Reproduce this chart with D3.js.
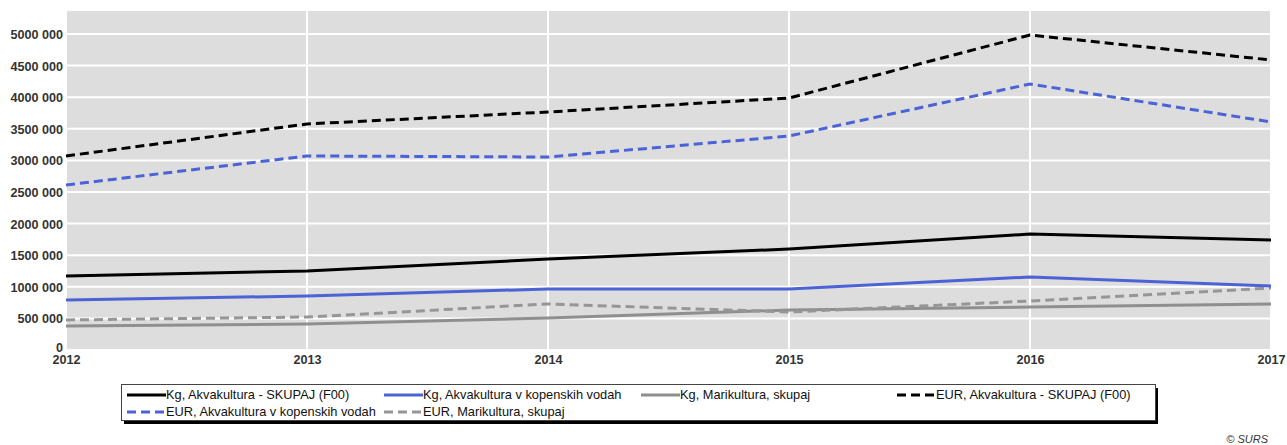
<!DOCTYPE html>
<html lang="sl">
<head>
<meta charset="UTF-8">
<title>Akvakultura</title>
<script src="https://d3js.org/d3.v7.min.js"></script>
<style>
  body { margin: 0; background: #fff; }
  text { font-family: "Liberation Sans", Arial, sans-serif; }
</style>
</head>
<body>
<div id="chart"></div>
<script>
// data
const years = [2012, 2013, 2014, 2015, 2016, 2017];
const kgTotal   = [1171000, 1250000, 1440000, 1598000, 1835000, 1740000];
const kgInland  = [791000, 854000, 965000, 965000, 1155000, 1013000];
const kgMarine  = [380000, 411000, 506000, 633000, 680000, 728000];
const eurTotal  = [3070000, 3576000, 3766000, 3987000, 4984000, 4589000];
const eurInland = [2611000, 3070000, 3054000, 3386000, 4209000, 3608000];
const eurMarine = [475000, 522000, 728000, 601000, 775000, 981000];
const yTicks = [0, 500000, 1000000, 1500000, 2000000, 2500000, 3000000, 3500000, 4000000, 4500000, 5000000];

const series = [
  {name: "Kg, Akvakultura - SKUPAJ (F00)", values: kgTotal, color: "#000", dash: null},
  {name: "Kg, Akvakultura v kopenskih vodah", values: kgInland, color: "#4b63d6", dash: null},
  {name: "Kg, Marikultura, skupaj", values: kgMarine, color: "#8f8f8f", dash: null},
  {name: "EUR, Akvakultura - SKUPAJ (F00)", values: eurTotal, color: "#000", dash: "9,5"},
  {name: "EUR, Akvakultura v kopenskih vodah", values: eurInland, color: "#4b63d6", dash: "9,5"},
  {name: "EUR, Marikultura, skupaj", values: eurMarine, color: "#969696", dash: "9,5"}
];

const W = 1287, H = 445;
const svg = d3.select("#chart").append("svg").attr("width", W).attr("height", H);

const pLeft = 66, pRight = 1271, pTop = 11, pBottom = 350;
const x = d3.scaleLinear().domain([2012, 2017]).range([pLeft, pRight]);
const y = d3.scaleLinear().domain([0, 5364000]).range([pBottom, pTop]);

// plot background
svg.append("rect")
  .attr("x", pLeft).attr("y", pTop)
  .attr("width", pRight - pLeft).attr("height", pBottom - pTop)
  .attr("fill", "#dddddd");

// grid
svg.selectAll("line.hgrid").data(yTicks).enter()
  .append("line")
  .attr("x1", pLeft).attr("x2", pRight)
  .attr("y1", d => y(d)).attr("y2", d => y(d))
  .attr("stroke", "#fff").attr("stroke-width", 2);

svg.selectAll("line.vgrid").data(years).enter()
  .append("line")
  .attr("x1", d => x(d)).attr("x2", d => x(d))
  .attr("y1", pTop).attr("y2", pBottom)
  .attr("stroke", "#fff").attr("stroke-width", 2);

// axes
const fmt = d => {
  if (d === 0) return "0";
  const s = String(d);
  return s.slice(0, s.length - 3) + " " + s.slice(-3);
};

const yAxis = svg.append("g")
  .attr("transform", `translate(${pLeft},0)`)
  .call(d3.axisLeft(y).tickValues(yTicks).tickFormat(fmt).tickSize(0).tickPadding(3));
yAxis.select(".domain").remove();
yAxis.selectAll("text")
  .attr("font-size", 12.6).attr("font-weight", "bold").attr("fill", "#333")
  .attr("dy", d => d === 0 ? "0.1em" : "0.35em");

const xAxis = svg.append("g")
  .attr("transform", `translate(0,${pBottom})`)
  .call(d3.axisBottom(x).tickValues(years).tickFormat(d3.format("d")).tickSize(0).tickPadding(5));
xAxis.select(".domain").remove();
xAxis.selectAll("text")
  .attr("font-size", 12.6).attr("font-weight", "bold").attr("fill", "#333");

// lines
const line = d3.line()
  .x((d, i) => x(years[i]))
  .y(d => y(d));

// draw the gray series under the others, as in the picture
const order = [2, 5, 1, 0, 4, 3];
order.forEach(k => {
  const s = series[k];
  svg.append("path")
    .datum(s.values)
    .attr("d", line)
    .attr("fill", "none")
    .attr("stroke", s.color)
    .attr("stroke-width", 3)
    .attr("stroke-dasharray", s.dash);
});

// legend
const lg = svg.append("g");
lg.append("rect")
  .attr("x", 124).attr("y", 388).attr("width", 1034).attr("height", 36)
  .attr("fill", "#000");
lg.append("rect")
  .attr("x", 121.5).attr("y", 384.5).attr("width", 1034).attr("height", 36)
  .attr("fill", "#fff").attr("stroke", "#444").attr("stroke-width", 1);

const colX = [127, 384, 641, 897];
const rowY = [395, 412];
const item = lg.selectAll("g.item").data(series).enter()
  .append("g")
  .attr("transform", (d, i) => `translate(${colX[i % 4]},${rowY[Math.floor(i / 4)]})`);

item.append("line")
  .attr("x1", 0).attr("x2", 39)
  .attr("y1", 0).attr("y2", 0)
  .attr("stroke", d => d.color)
  .attr("stroke-width", 3)
  .attr("stroke-dasharray", d => d.dash ? "9,5" : null);

item.append("text")
  .attr("x", 39).attr("y", 0).attr("dy", "0.35em")
  .attr("font-size", 12.8).attr("fill", "#111")
  .text(d => d.name);

// copyright
svg.append("text")
  .attr("x", 1268).attr("y", 443)
  .attr("text-anchor", "end")
  .attr("font-size", 11).attr("font-style", "italic").attr("fill", "#333")
  .text("© SURS");
</script>
</body>
</html>
